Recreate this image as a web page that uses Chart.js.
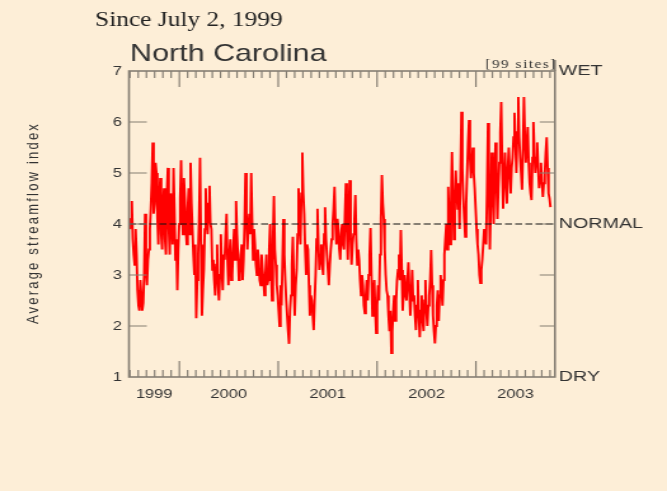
<!DOCTYPE html>
<html><head><meta charset="utf-8">
<script src="https://cdn.jsdelivr.net/npm/chart.js@4.4.1/dist/chart.umd.min.js"></script>
<style>
html,body{margin:0;padding:0;background:#fdeed7;overflow:hidden;width:667px;height:491px;}
#wrap{position:absolute;left:0;top:0;width:525px;height:491px;transform:scaleX(1.27048);transform-origin:0 0;}
canvas{display:block;}
</style></head><body>
<div id="wrap"><canvas id="c" width="525" height="491"></canvas></div>
<script>
// ---- data ----
const startYear = 1999.5;            // July 2, 1999
const stepYears = 3.5 / 365.25;      // one value every 3.5 days
const indexValues = [
 3.9,4.1,4.45,3.7,3.4,3.2,3.9,3.4,2.7,2.4,2.3,2.9,2.6,2.3,2.45,3.0,4.2,3.1,2.8,3.3,
 3.5,3.9,4.3,4.8,5.6,4.2,4.4,5.2,5.0,4.1,3.6,4.5,4.9,3.8,3.5,4.4,4.7,3.7,3.4,4.6,
 5.1,3.9,3.4,4.6,4.2,3.6,5.1,4.3,3.3,3.7,2.7,3.5,4.0,4.5,5.25,4.2,3.8,4.9,4.5,3.9,
 3.6,4.3,4.7,3.8,5.2,4.4,3.9,3.4,3.0,3.6,2.15,2.9,3.4,4.1,5.3,3.6,2.2,2.7,3.1,3.9,
 4.7,4.1,3.8,4.4,4.75,4.0,3.9,3.1,3.3,2.9,2.6,3.2,3.6,2.8,2.5,3.0,3.8,3.1,2.7,3.4,
 3.3,3.8,4.2,3.3,2.8,3.4,3.7,2.9,3.0,3.5,3.9,3.3,4.45,3.8,3.4,2.9,3.0,3.4,3.6,2.9,
 3.3,4.0,5.0,4.2,3.5,3.9,4.2,3.8,5.0,4.1,3.3,3.9,3.6,3.2,3.0,3.5,3.3,2.9,2.8,3.4,
 3.1,2.9,2.6,3.0,3.4,2.8,2.9,3.5,4.0,3.1,2.5,3.7,4.55,3.5,3.2,2.8,2.6,2.3,2.0,2.8,
 2.4,3.2,4.1,3.4,2.9,2.5,2.2,1.9,1.65,2.3,2.6,3.2,3.75,2.9,2.2,2.8,3.1,3.8,4.7,4.0,
 3.6,4.6,5.4,4.6,4.2,3.5,3.0,3.6,3.5,2.8,2.2,2.6,2.5,2.2,1.92,2.5,3.0,3.7,4.3,3.6,
 3.1,3.4,3.6,3.2,3.0,3.8,4.33,3.7,3.4,3.1,2.8,3.2,3.5,3.7,4.0,4.3,4.73,4.0,3.6,4.1,
 3.9,3.5,3.3,3.8,4.0,3.6,3.5,4.2,4.8,3.9,3.3,4.2,4.86,3.7,3.2,3.6,3.8,4.1,4.57,3.7,
 3.2,3.5,3.3,2.9,2.6,3.0,2.8,2.4,2.25,2.6,2.9,2.5,3.0,3.4,3.92,3.0,2.2,2.6,2.9,2.3,
 1.86,2.4,2.8,2.5,3.4,4.1,4.96,4.4,4.1,3.5,3.0,2.7,2.6,2.2,1.9,2.3,1.47,1.9,2.3,2.6,
 2.1,2.5,2.9,3.1,3.4,2.9,3.88,3.1,2.3,2.7,3.0,2.6,2.5,2.9,3.25,2.7,2.2,2.6,3.1,2.5,
 2.6,2.2,1.92,2.4,2.9,2.2,1.78,2.3,2.6,2.1,1.9,2.5,2.9,2.3,2.0,2.4,2.6,2.9,3.49,2.8,
 2.2,1.9,1.66,2.0,2.4,2.7,2.1,2.6,3.0,2.7,2.4,2.9,3.4,3.7,4.0,3.5,4.73,4.1,3.6,4.4,
 5.41,4.5,3.7,4.4,5.05,4.6,4.3,4.8,3.9,5.0,6.2,5.1,4.5,4.1,3.75,4.4,5.0,5.6,6.04,5.3,
 4.9,5.2,5.5,5.0,4.7,4.3,3.9,3.6,3.4,3.0,2.84,3.1,3.3,3.6,3.9,3.7,3.6,4.6,5.98,4.7,
 3.5,4.4,5.4,4.7,4.0,4.9,5.6,4.8,4.1,4.7,5.2,5.8,6.39,5.2,4.3,4.9,5.4,4.8,4.4,5.1,
 5.5,5.0,4.6,5.1,5.3,5.7,6.18,5.6,5.0,5.8,6.49,5.7,5.3,5.0,4.67,5.5,6.49,5.7,5.2,5.6,
 5.9,5.2,4.8,4.6,4.47,5.3,6.0,5.4,5.0,5.3,5.6,5.1,4.7,4.9,5.2,4.8,4.53,4.8,5.0,5.4,
 5.7,5.1,4.6,4.5,4.33
];
const normalValue = 4;
const yTickValues = [1,2,3,4,5,6,7];
const rightLabelValues = [1,4,7];
const rightLabelTexts = ['DRY','NORMAL','WET'];
const yearLabelPositions = [1999.745, 2000.5, 2001.5, 2002.5, 2003.40];
const yearLabels = ['1999','2000','2001','2002','2003'];
const xMin = 1999.49, xMax = 2003.80;

// ---- build ----
const series = indexValues.map((v,i)=>({x: startYear + i*stepYears, y: v}));
const normalLine = [{x:xMin,y:normalValue},{x:xMax,y:normalValue}];

const framePlugin = {
  id:'frame',
  afterDatasetsDraw(chart){
    const {ctx, chartArea:a, scales} = chart;
    const x = scales.x, y = scales.y;
    ctx.save();
    ctx.strokeStyle = '#857e73';
    ctx.lineWidth = 1.2;
    ctx.beginPath();
    for (const v of yTickValues){
      if (v === 1 || v === 7) continue;
      const py = y.getPixelForValue(v);
      ctx.moveTo(a.left, py); ctx.lineTo(a.left + 14, py);
      ctx.moveTo(a.right, py); ctx.lineTo(a.right - 12, py);
    }
    for (let yr = 1999; yr <= 2003; yr++){
      for (let m = 0; m < 12; m++){
        const t = yr + m/12;
        if (t <= xMin || t >= xMax) continue;
        const px = x.getPixelForValue(t);
        const len = m === 0 ? 16 : 7;
        ctx.moveTo(px, a.bottom); ctx.lineTo(px, a.bottom - len);
        ctx.moveTo(px, a.top); ctx.lineTo(px, a.top + len);
      }
    }
    ctx.stroke();
    ctx.lineWidth = 1.6;
    ctx.strokeRect(a.left, a.top, a.right - a.left, a.bottom - a.top);
    ctx.beginPath(); ctx.moveTo(a.right, a.top); ctx.lineTo(a.right, a.top - 11); ctx.stroke();

    ctx.textAlign = 'left'; ctx.textBaseline = 'alphabetic';
    ctx.fillStyle = '#222';
    ctx.font = '20px "Liberation Serif"';
    ctx.fillText('Since July 2, 1999', 74.8, 25.5);
    ctx.fillStyle = '#333';
    ctx.font = '24px "Liberation Sans"';
    ctx.fillText('North Carolina', 102.3, 61);
    ctx.font = '12px "Liberation Serif"';
    ctx.textAlign = 'right';
    if ('letterSpacing' in ctx) ctx.letterSpacing = '1.2px';
    ctx.fillText('[99 sites]', a.right + 1.5, 67.5);

    // y-axis title
    ctx.save();
    ctx.translate(26, (a.top + a.bottom) / 2 - 1);
    ctx.rotate(-Math.PI / 2);
    ctx.textAlign = 'center'; ctx.textBaseline = 'middle';
    ctx.font = '13px "Liberation Sans"';
    if ('letterSpacing' in ctx) ctx.letterSpacing = '2.2px';
    ctx.fillText('Average streamflow index', 0, 0);
    ctx.restore();
    ctx.restore();
  }
};

const tickFont = {family:'Liberation Sans', size:13};
new Chart(document.getElementById('c'), {
  type:'line',
  data:{datasets:[
    {data:normalLine, borderColor:'#111', borderWidth:1.1, borderDash:[5.5,2.5], pointRadius:0, xAxisID:'x', yAxisID:'y'},
    {data:series, borderColor:'#ff0000', borderWidth:1.9, pointRadius:0, tension:0, xAxisID:'x', yAxisID:'y'}
  ]},
  options:{
    responsive:false, animation:false, devicePixelRatio:1,
    layout:{padding:{top:71,left:0,right:0,bottom:0}},
    plugins:{legend:{display:false}, tooltip:{enabled:false}},
    scales:{
      x:{type:'linear', position:'bottom', min:xMin, max:xMax,
         grid:{display:false, drawTicks:false}, border:{display:false},
         afterBuildTicks:s=>{ s.ticks = yearLabelPositions.map(v=>({value:v})); },
         ticks:{autoSkip:false, maxRotation:0, padding:10, color:'#333', font:tickFont,
                callback:(v,i)=>yearLabels[i]},
         afterFit:s=>{ s.height = 114; }},
      y:{type:'linear', position:'left', min:1, max:7,
         grid:{display:false, drawTicks:false}, border:{display:false},
         afterBuildTicks:s=>{ s.ticks = yTickValues.map(v=>({value:v})); },
         ticks:{padding:5.5, color:'#333', font:tickFont, callback:v=>String(v)},
         afterFit:s=>{ s.width = 101.5; }},
      y2:{type:'linear', position:'right', min:1, max:7,
         grid:{display:false, drawTicks:false}, border:{display:false},
         afterBuildTicks:s=>{ s.ticks = rightLabelValues.map(v=>({value:v})); },
         ticks:{padding:3, color:'#333', font:{family:'Liberation Sans', size:15.5},
                callback:v=>rightLabelTexts[rightLabelValues.indexOf(v)]},
         afterFit:s=>{ s.width = 88.2; }}
    }
  },
  plugins:[framePlugin]
});
</script>
</body></html>
